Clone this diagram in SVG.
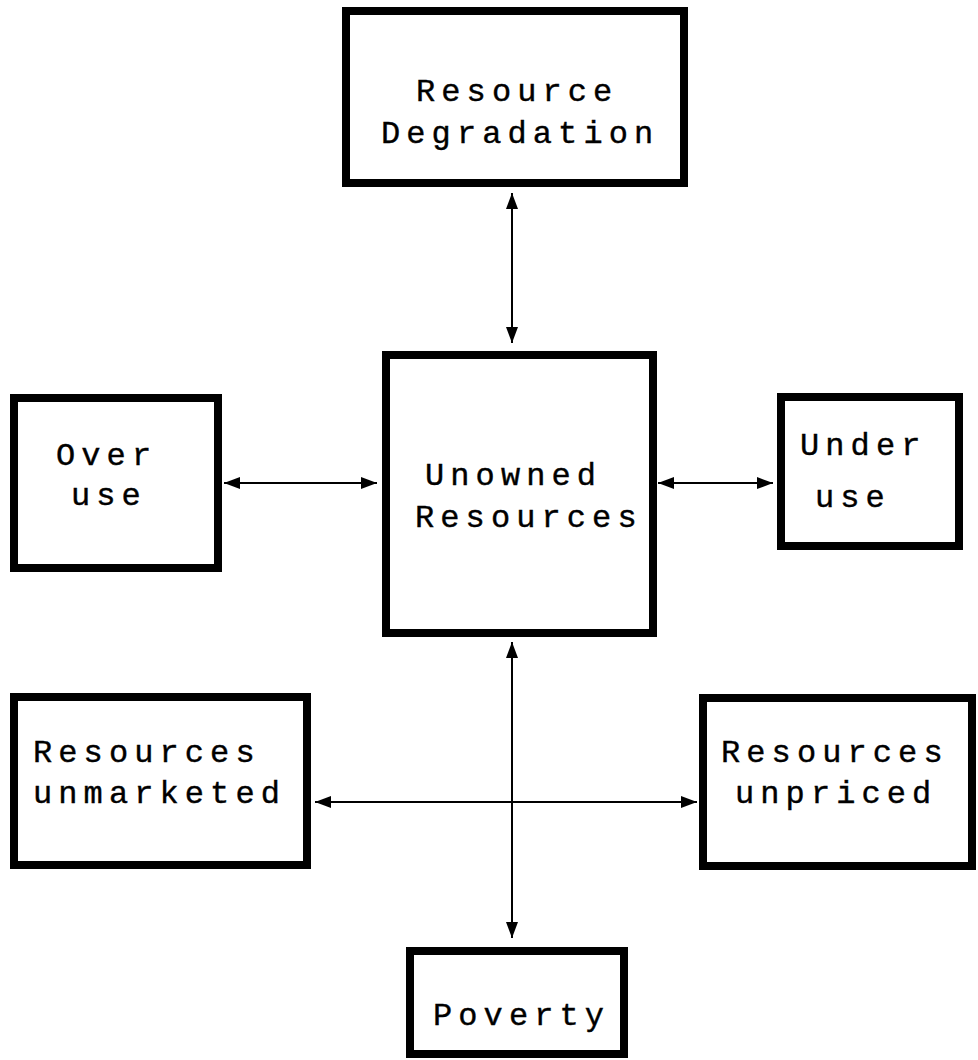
<svg xmlns="http://www.w3.org/2000/svg" width="978" height="1060" viewBox="0 0 978 1060">
<defs>
<style>
.box{fill:#fff;stroke:#000;stroke-width:8}
.t{font-family:"Liberation Mono","DejaVu Sans Mono",monospace;font-size:32px;letter-spacing:6.1px;fill:#000;stroke:#000;stroke-width:0.4}
.c{stroke:#000;stroke-width:2;fill:none}
</style>
<marker id="ah" viewBox="0 0 16 12" refX="16" refY="6" markerWidth="16" markerHeight="12" markerUnits="userSpaceOnUse" orient="auto-start-reverse">
<path d="M0,0 L16,6 L0,12 Z" fill="#000"/>
</marker>
</defs>
<rect width="978" height="1060" fill="#fff"/>
<g id="connectors">
<line class="c" x1="512" y1="193" x2="512" y2="343" marker-start="url(#ah)" marker-end="url(#ah)"/>
<line class="c" x1="224" y1="483" x2="377" y2="483" marker-start="url(#ah)" marker-end="url(#ah)"/>
<line class="c" x1="658" y1="483" x2="773" y2="483" marker-start="url(#ah)" marker-end="url(#ah)"/>
<line class="c" x1="512" y1="642" x2="512" y2="938" marker-start="url(#ah)" marker-end="url(#ah)"/>
<line class="c" x1="315" y1="802" x2="697" y2="802" marker-start="url(#ah)" marker-end="url(#ah)"/>
</g>
<g id="degradation">
<rect class="box" x="346" y="11" width="338" height="172"/>
<text class="t" x="416" y="101">Resource</text>
<text class="t" x="381" y="143">Degradation</text>
</g>
<g id="unowned">
<rect class="box" x="386" y="355" width="267" height="278"/>
<text class="t" x="425" y="485">Unowned</text>
<text class="t" x="415" y="527">Resources</text>
</g>
<g id="overuse">
<rect class="box" x="14" y="398" width="204" height="170"/>
<text class="t" x="56" y="465">Over</text>
<text class="t" x="71" y="505">use</text>
</g>
<g id="underuse">
<rect class="box" x="781" y="397" width="178" height="149"/>
<text class="t" x="800" y="455">Under</text>
<text class="t" x="815" y="507">use</text>
</g>
<g id="unmarketed">
<rect class="box" x="14" y="697" width="293" height="168"/>
<text class="t" x="33" y="762">Resources</text>
<text class="t" x="33" y="803">unmarketed</text>
</g>
<g id="unpriced">
<rect class="box" x="703" y="698" width="269" height="168"/>
<text class="t" x="721" y="762">Resources</text>
<text class="t" x="735" y="803">unpriced</text>
</g>
<g id="poverty">
<rect class="box" x="410" y="951" width="214" height="103"/>
<text class="t" x="433" y="1025">Poverty</text>
</g>
</svg>
